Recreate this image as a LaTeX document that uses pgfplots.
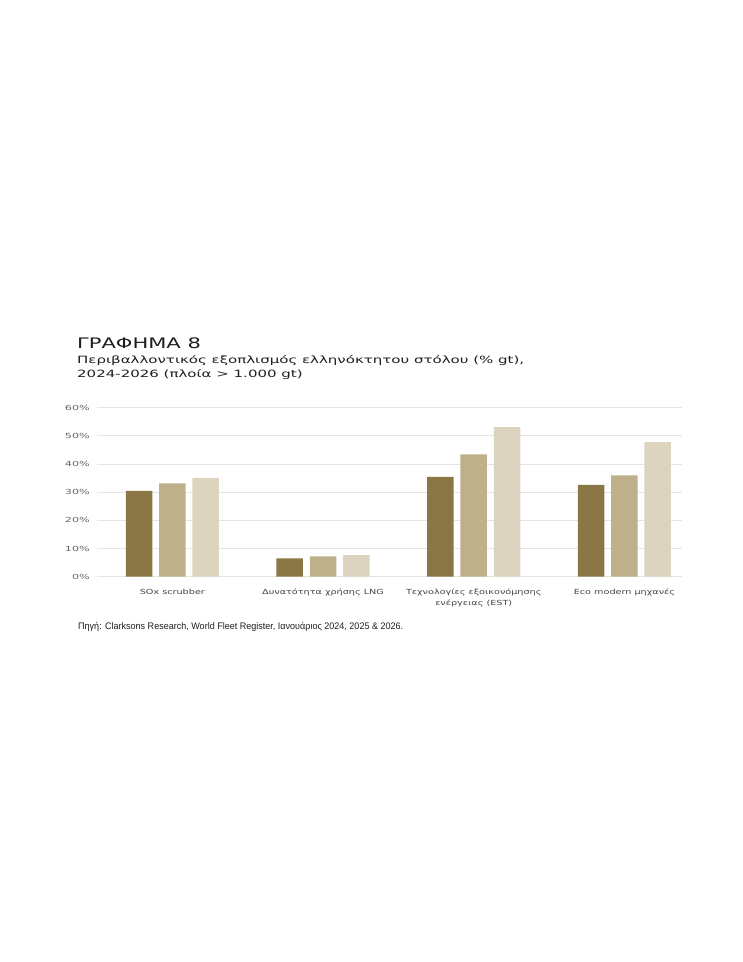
\documentclass[border=0pt]{standalone}
\usepackage{fontspec}
\usepackage{pgfplots}
\pgfplotsset{compat=1.18}
\setmainfont{DejaVu Sans}
\newfontfamily\titlefont[FakeStretch=1.45]{DejaVu Sans}
\newfontfamily\subfont[FakeStretch=1.5]{DejaVu Sans}
\newfontfamily\tickfont[FakeStretch=1.6]{DejaVu Sans}
\newfontfamily\catfont[FakeStretch=1.38]{DejaVu Sans}
\newfontfamily\srcfont[FakeStretch=0.95]{Liberation Sans}
\definecolor{cA}{HTML}{8B7745}
\definecolor{cB}{HTML}{BFB08C}
\definecolor{cC}{HTML}{DCD4BF}
\definecolor{gridc}{HTML}{E4E4E4}
\definecolor{titlec}{HTML}{1E1E1E}
\definecolor{tickc}{HTML}{666666}
\definecolor{catc}{HTML}{444444}
\begin{document}
\begin{tikzpicture}
\path[fill=white] (0,0) rectangle (743pt,962pt);
\node[anchor=base west, inner sep=0, font=\titlefont\fontsize{14.5}{16}\selectfont, text=titlec] at (77pt,613pt) {ΓΡΑΦΗΜΑ 8};
\node[anchor=base west, inner sep=0, font=\subfont\fontsize{10}{11}\selectfont, text=titlec] at (77pt,598pt) {Περιβαλλοντικός εξοπλισμός ελληνόκτητου στόλου (\% gt),};
\node[anchor=base west, inner sep=0, font=\subfont\fontsize{10}{11}\selectfont, text=titlec] at (77pt,584pt) {2024-2026 (πλοία > 1.000 gt)};
\node[anchor=base west, inner sep=0, font=\srcfont\fontsize{9.5}{11}\selectfont, text=titlec] at (78pt,332pt) {Πηγή: Clarksons Research, World Fleet Register, Ιανουάριος 2024, 2025 \& 2026.};
\begin{axis}[
  at={(97pt,385.3pt)}, anchor=south west,
  scale only axis, width=584.7pt, height=169pt,
  xmin=-0.5, xmax=3.38, ymin=0, ymax=60,
  axis line style={draw=none},
  major tick length=0pt,
  ymajorgrids, grid style={color=gridc, line width=0.9pt},
  ytick={0,10,20,30,40,50,60},
  yticklabels={0\%,10\%,20\%,30\%,40\%,50\%,60\%},
  yticklabel style={anchor=east, inner sep=0pt, xshift=-7pt, font=\tickfont\fontsize{7}{8}\selectfont, text=tickc},
  xtick={0,1,2,3},
  xticklabels={SOx scrubber, Δυνατότητα χρήσης LNG, {Τεχνολογίες εξοικονόμησης\\ενέργειας (EST)}, Eco modern μηχανές},
  xticklabel style={anchor=north, inner sep=0pt, yshift=-12pt, align=center, font=\catfont\fontsize{7}{11}\selectfont, text=catc},
]
\addplot[ybar, bar width=26.5pt, bar shift=-33.3pt, fill=cA, draw=none] coordinates {(0,30.5) (1,6.5) (2,35.4) (3,32.6)};
\addplot[ybar, bar width=26.5pt, bar shift=0pt, fill=cB, draw=none] coordinates {(0,33.1) (1,7.2) (2,43.4) (3,36.0)};
\addplot[ybar, bar width=26.5pt, bar shift=33.3pt, fill=cC, draw=none] coordinates {(0,35.1) (1,7.7) (2,53.1) (3,47.8)};
\end{axis}
\end{tikzpicture}
\end{document}
